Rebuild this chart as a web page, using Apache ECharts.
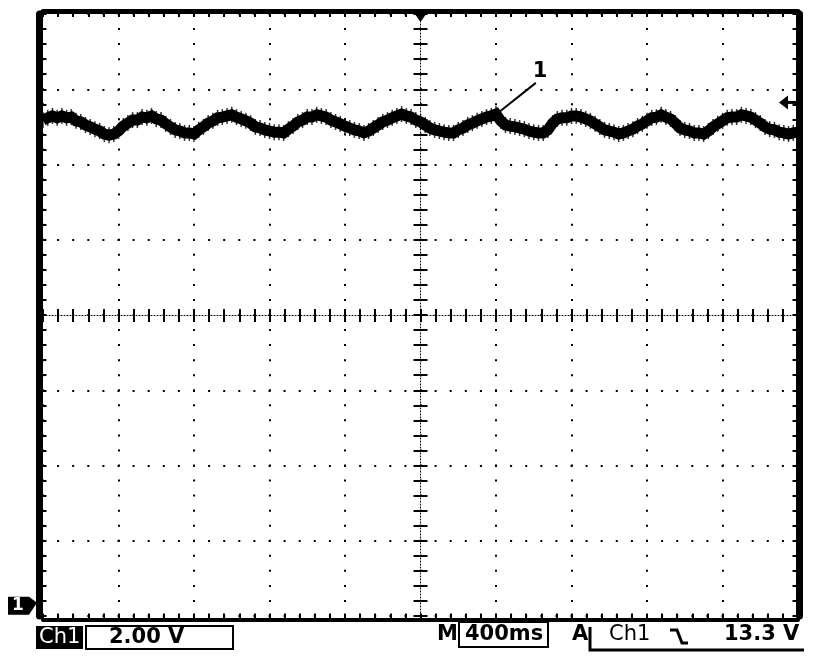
<!DOCTYPE html>
<html>
<head>
<meta charset="utf-8">
<script src="https://cdn.jsdelivr.net/npm/echarts@6/dist/echarts.min.js"></script>
<style>
html,body{margin:0;padding:0;background:#fff;}
#chart{width:816px;height:660px;}
</style>
</head>
<body>
<div id="chart"></div>
<script>
// ---- Data ----
// Time axis: 400 ms/div, 10 divisions, trigger at centre -> -2000..2000 ms
const timeStart = -2000;   // ms
const timeStep = 25;       // ms between samples
// Ch1 voltage (V), 2.00 V/div
const voltage = [
 12.83,12.89,12.94,12.89,12.94,12.89,12.91,12.81,12.78,12.70,
 12.65,12.59,12.54,12.46,12.43,12.46,12.54,12.67,12.75,12.83,
 12.83,12.91,12.89,12.94,12.86,12.83,12.73,12.65,12.57,12.54,
 12.49,12.49,12.46,12.57,12.65,12.75,12.81,12.89,12.91,12.94,
 12.97,12.91,12.86,12.81,12.75,12.65,12.62,12.57,12.54,12.51,
 12.51,12.49,12.59,12.67,12.78,12.83,12.91,12.91,12.97,12.94,
 12.91,12.83,12.78,12.73,12.67,12.62,12.57,12.54,12.49,12.54,
 12.62,12.70,12.78,12.83,12.89,12.94,12.99,12.94,12.91,12.83,
 12.78,12.70,12.62,12.57,12.54,12.51,12.49,12.49,12.57,12.62,
 12.70,12.75,12.81,12.86,12.91,12.94,12.99,12.81,12.70,12.67,
 12.65,12.62,12.59,12.54,12.51,12.49,12.49,12.57,12.75,12.86,
 12.89,12.89,12.94,12.94,12.91,12.86,12.81,12.73,12.65,12.57,
 12.54,12.51,12.46,12.49,12.54,12.59,12.67,12.73,12.81,12.89,
 12.91,12.97,12.91,12.86,12.75,12.62,12.57,12.54,12.49,12.49,
 12.46,12.54,12.65,12.73,12.81,12.89,12.91,12.91,12.97,12.94,
 12.91,12.83,12.75,12.65,12.59,12.57,12.51,12.49,12.46,12.49,
 12.51
];
// Screen ranges
const timeRange = [-2000, 2000];        // ms
const voltRange = [-0.35, 15.65];       // V (8 div x 2 V, ground slightly above bottom)
const triggerLevel = 13.3;              // V
const groundLevel = 0;                  // V
// Annotation "1"
const annotTip = [415, 13.04];
const annotEnd = [611, 13.82];
const annotLabelPos = [633, 14.11];
// Status bar texts
const statusTexts = { ch: 'Ch1', vdiv: '2.00 V', mlabel: 'M', tdiv: '400ms', alabel: 'A', trigCh: 'Ch1', trigLvl: '13.3 V' };

const seriesData = voltage.map((v, i) => [timeStart + i * timeStep, v]);

const chart = echarts.init(document.getElementById('chart'), null, { renderer: 'canvas' });

const black = '#000';
const dotV = [2, 13.05];
const dotH = [2, 13.1];

function tickStyle(len, w) {
  return {
    axisTick: { show: true, inside: true, length: len, lineStyle: { color: black, width: w || 2 } },
    minorTick: { show: true, splitNumber: 5, length: len, lineStyle: { color: black, width: w || 2 } }
  };
}
function divAxis(extra) {
  return Object.assign({
    type: 'value',
    interval: 1,
    axisLabel: { show: false },
    splitLine: { show: false }
  }, extra);
}

const option = {
  animation: false,
  backgroundColor: '#fff',
  grid: { left: 43, right: 18, top: 14, bottom: 44 },
  xAxis: [
    // bottom frame
    divAxis(Object.assign({ min: 0, max: 10, position: 'bottom', offset: 3.5,
      axisLine: { show: true, onZero: false, lineStyle: { color: black, width: 4 } },
      splitLine: { show: true, lineStyle: { color: black, width: 2, type: dotV, dashOffset: 1 } } }, tickStyle(6))),
    // top frame
    divAxis(Object.assign({ min: 0, max: 10, position: 'top', offset: 3,
      axisLine: { show: true, onZero: false, lineStyle: { color: black, width: 5 } } }, tickStyle(6))),
    // centre horizontal line (ticks up)
    divAxis(Object.assign({ min: 0, max: 10, position: 'bottom',
      axisLine: { show: true, onZero: true, onZeroAxisIndex: 0, lineStyle: { color: black, width: 1, type: [1, 2] } } }, tickStyle(6, 2))),
    // centre horizontal line (ticks down)
    divAxis(Object.assign({ min: 0, max: 10, position: 'top',
      axisLine: { show: false, onZero: true, onZeroAxisIndex: 0 } }, tickStyle(7, 2))),
    { type: 'value', min: timeRange[0], max: timeRange[1], show: false, axisLine: { onZero: false } }
  ],
  yAxis: [
    // left frame
    divAxis(Object.assign({ min: -4, max: 4, position: 'left', offset: 3.5,
      axisLine: { show: true, onZero: false, lineStyle: { color: black, width: 7 } },
      splitLine: { show: true, lineStyle: { color: black, width: 2, type: dotH, dashOffset: 1 } } }, tickStyle(7))),
    // right frame
    divAxis(Object.assign({ min: -4, max: 4, position: 'right', offset: 1.5,
      axisLine: { show: true, onZero: false, lineStyle: { color: black, width: 7 } } }, tickStyle(7))),
    // centre vertical line (ticks right)
    divAxis(Object.assign({ min: -4, max: 4, position: 'left',
      axisLine: { show: true, onZero: true, onZeroAxisIndex: 4, lineStyle: { color: black, width: 1, type: [1, 2] } } }, tickStyle(7, 2))),
    // centre vertical line (ticks left)
    divAxis(Object.assign({ min: -4, max: 4, position: 'right',
      axisLine: { show: false, onZero: true, onZeroAxisIndex: 4 } }, tickStyle(7, 2))),
    { type: 'value', min: voltRange[0], max: voltRange[1], show: false, axisLine: { onZero: false } }
  ],
  series: [{
    type: 'line',
    xAxisIndex: 4,
    yAxisIndex: 4,
    data: seriesData,
    symbol: 'none',
    z: 10,
    lineStyle: { color: black, width: 11, join: 'miter' },
    markLine: {
      silent: true,
      symbol: ['none', 'none'],
      label: { show: false },
      lineStyle: { color: black, width: 2, type: 'solid' },
      data: [[{ coord: annotTip }, { coord: annotEnd }]]
    },
    markPoint: {
      silent: true,
      symbol: 'rect',
      symbolSize: 1,
      itemStyle: { color: 'rgba(0,0,0,0)' },
      label: { show: true, position: 'inside', formatter: '1', color: black,
               fontSize: 21, fontWeight: 'bold', fontFamily: 'DejaVu Sans' },
      data: [{ coord: annotLabelPos }]
    }
  }, {
    // vertical noise spikes on the trace
    type: 'scatter',
    xAxisIndex: 4,
    yAxisIndex: 4,
    data: seriesData,
    symbol: 'rect',
    symbolSize: [1.5, 16],
    silent: true,
    z: 11,
    itemStyle: { color: black }
  }]
};

chart.setOption(option);

const px = v => chart.convertToPixel({ xAxisIndex: 4, yAxisIndex: 4 }, v);
const g = px([timeRange[0], groundLevel]);
const t = px([timeRange[1], triggerLevel]);
const tp = px([0, voltRange[1]]);

const boldFont = 'bold 21px "DejaVu Sans"';
const normFont = '21px "DejaVu Sans"';
function txt(text, x, y, font, fill) {
  return { type: 'text', x: x, y: y, z: 100,
    style: { text: text, font: font, fill: fill || black, align: 'left', verticalAlign: 'middle',
             textAlign: 'left', textVerticalAlign: 'middle' } };
}

chart.setOption({
  graphic: [
    // ground marker "1"
    { type: 'polygon', x: g[0], y: g[1], z: 100,
      shape: { points: [[-35, -6], [-14, -6], [-6, 0], [-14, 12], [-35, 12]] },
      style: { fill: black } },
    { type: 'text', x: g[0] - 25, y: g[1] + 3, z: 101,
      style: { text: '1', font: 'bold 17px "DejaVu Sans"', fill: '#fff', align: 'center', verticalAlign: 'middle',
               textAlign: 'center', textVerticalAlign: 'middle' } },
    // trigger level arrow (right)
    { type: 'polygon', x: t[0], y: t[1], z: 100,
      shape: { points: [[-19, 0], [-10, -7], [-10, 7]] }, style: { fill: black } },
    { type: 'line', x: t[0], y: t[1], z: 100,
      shape: { x1: -12, y1: 0, x2: -1, y2: 0 }, style: { stroke: black, lineWidth: 3 } },
    // trigger position marker (top)
    { type: 'polygon', x: tp[0], y: tp[1], z: 100,
      shape: { points: [[-7, -2], [7, -2], [0, 8]] }, style: { fill: black } },
    // status bar
    { type: 'rect', z: 100, shape: { x: 36, y: 626, width: 47, height: 23 }, style: { fill: black } },
    txt(statusTexts.ch, 39, 638, normFont, '#fff'),
    { type: 'rect', z: 100, shape: { x: 86, y: 626, width: 147, height: 23 },
      style: { fill: 'none', stroke: black, lineWidth: 2 } },
    txt(statusTexts.vdiv, 109, 638, boldFont),
    txt(statusTexts.mlabel, 437, 635, boldFont),
    { type: 'rect', z: 100, shape: { x: 459, y: 622, width: 89, height: 25 },
      style: { fill: 'none', stroke: black, lineWidth: 2 } },
    txt(statusTexts.tdiv, 465, 635, boldFont),
    txt(statusTexts.alabel, 572, 635, boldFont),
    { type: 'polyline', z: 100, shape: { points: [[590, 627], [590, 650], [804, 650]] },
      style: { fill: 'none', stroke: black, lineWidth: 3 } },
    txt(statusTexts.trigCh, 609, 635, normFont),
    { type: 'polyline', z: 100, shape: { points: [[670, 630], [677, 630], [682, 643], [688, 643]] },
      style: { fill: 'none', stroke: black, lineWidth: 3 } },
    txt(statusTexts.trigLvl, 724, 635, boldFont)
  ]
});
</script>
</body>
</html>
